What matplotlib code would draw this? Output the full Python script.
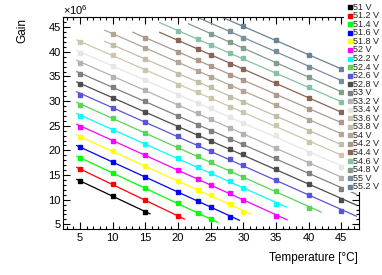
import numpy as np
import matplotlib
matplotlib.use("Agg")
import matplotlib.pyplot as plt
from matplotlib.ticker import MultipleLocator
from matplotlib.patches import Rectangle
from matplotlib.lines import Line2D

plt.rcParams["font.family"] = ["Liberation Sans", "DejaVu Sans"]
plt.rcParams["mathtext.fontset"] = "custom"
plt.rcParams["mathtext.rm"] = "Liberation Sans"

# temperatures (degC) at which the gain was measured
temps = [5, 10, 15, 20, 23, 25, 28, 30, 35, 40, 45]

voltages = [51.0, 51.2, 51.4, 51.6, 51.8, 52.0, 52.2, 52.4, 52.6, 52.8, 53.0,
            53.2, 53.4, 53.6, 53.8, 54.0, 54.2, 54.4, 54.6, 54.8, 55.0, 55.2]

# gain in units of 1e6, one row per voltage, None = not measured
N = None
gains = [
    [13.84, 10.65, 7.60, N, N, N, N, N, N, N, N],
    [16.14, 13.17, 9.92, 6.62, N, N, N, N, N, N, N],
    [18.46, 15.47, 12.28, 9.23, 7.34, 5.99, N, N, N, N, N],
    [20.61, 17.70, 14.51, 11.60, 9.78, 8.56, 6.53, N, N, N, N],
    [22.64, 19.80, 16.89, 13.84, 12.02, 10.86, 9.10, 7.47, N, N, N],
    [24.82, 21.97, 19.13, 16.02, 14.25, 13.03, 11.27, 9.98, 6.66, N, N],
    [27.05, 24.20, 21.30, 18.37, 16.62, 15.40, 13.71, 12.42, 9.17, N, N],
    [29.23, 26.50, 23.46, 20.61, 18.86, 17.64, 15.88, 14.59, 11.67, 8.29, N],
    [31.32, 28.54, 25.69, 22.85, 21.09, 19.94, 18.18, 17.09, 14.04, 10.86, 7.61],
    [33.50, 30.65, 27.72, 24.82, 23.06, 21.97, 20.28, 19.19, 16.28, 13.10, 9.98],
    [35.53, 32.80, 29.96, 27.05, 25.16, 24.01, 22.31, 21.36, 18.45, 15.40, 12.15],
    [37.76, 34.98, 32.28, 29.23, 27.60, 26.38, 24.48, 23.39, 20.55, 17.43, 14.38],
    [39.80, 37.07, 34.37, 31.26, 29.63, 28.54, 26.71, 25.63, 23.05, 19.46, 16.69],
    [41.95, 39.39, 36.40, 33.35, 31.80, 30.57, 28.75, 27.73, 25.09, 21.70, 19.06],
    [N, 41.42, 38.58, 35.53, 33.96, 32.81, 30.78, 29.90, 27.05, 23.87, 21.29],
    [N, 43.66, 40.73, 37.89, 36.20, 34.98, 33.15, 32.13, 29.22, 26.17, 23.39],
    [N, N, 42.85, 39.92, 38.37, 37.22, 35.32, 34.27, 31.32, 28.41, 25.70],
    [N, N, N, 42.30, 40.60, 39.38, 37.55, 36.60, 33.62, 30.64, 27.73],
    [N, N, N, 44.13, 42.64, 41.42, 39.72, 38.65, 35.66, 32.81, 29.76],
    [N, N, N, N, N, 43.65, 41.96, 40.81, 37.69, 34.84, 31.93],
    [N, N, N, N, N, N, 44.13, 42.77, 40.13, 37.01, 34.17],
    [N, N, N, N, N, N, N, 45.14, 42.30, 39.38, 36.54],
]

# temperature range over which each linear fit is drawn
fit_lo = [4.5] * 14 + [8.8, 8.8, 13.1, 17.2, 17.2, 21.6, 22.0, 26.0]
fit_hi = [15.7, 21.0, 26.1, 29.4, 31.2, 36.7, 36.6, 41.9] + [47.3] * 14

# ROOT colour indices 1-9, 12, 14, ..., 36
colors = ["#000000", "#ff0000", "#00ff00", "#0000ff", "#ffff00", "#ff00ff",
          "#00ffff", "#59d454", "#5954d9", "#4d4d4d", "#808080", "#b3b3b3",
          "#e6e6e6", "#ccc7ab", "#c2bfa8", "#b3a696", "#ad998c", "#876657",
          "#85c2a3", "#829e8c", "#7a8f99", "#698296"]

W, H = 382, 275
fig = plt.figure(figsize=(W / 100, H / 100), dpi=100)
ax = fig.add_axes([63 / W, 1 - 229 / H, (359 - 63) / W, (229 - 17.3) / H])

for v, row, lo, hi, c in zip(voltages, gains, fit_lo, fit_hi, colors):
    t = np.array([x for x, g in zip(temps, row) if g is not None], dtype=float)
    g = np.array([g for g in row if g is not None], dtype=float)
    p = np.polyfit(t, g, 1)
    xs = np.array([lo, hi])
    ax.plot(xs, np.polyval(p, xs), color=c, lw=0.9, zorder=2)
    ax.plot(t, g, "s", color=c, ms=3.2, mec=c, zorder=3)

ax.set_xlim(2.4, 47.7)
ax.set_ylim(4.05, 47.0)
ax.xaxis.set_major_locator(MultipleLocator(5))
ax.xaxis.set_minor_locator(MultipleLocator(1))
ax.yaxis.set_major_locator(MultipleLocator(5))
ax.yaxis.set_minor_locator(MultipleLocator(1))
ax.tick_params(which="both", direction="in", top=True, right=True,
               labelsize=8, width=0.8)
ax.tick_params(which="major", length=5)
ax.tick_params(which="minor", length=2.5)
ax.tick_params(axis="y", pad=1.5)
ax.tick_params(axis="x", pad=3)
for s in ax.spines.values():
    s.set_linewidth(0.8)

fig.text(22 / W, 1 - 18 / H, "Gain", rotation=90, ha="center", va="top",
         fontsize=8.5)
fig.text(358 / W, 1 - 258 / H, "Temperature [°C]", ha="right", va="center",
         fontsize=8.5)
fig.text(63 / W, 1 - 15 / H, r"$\times\mathregular{10^{6}}$", ha="left",
         va="baseline", fontsize=8)

# legend box (white, no border) over the top right corner
fig.add_artist(Rectangle((344 / W, 1 - 192 / H), (W - 344) / W, 192 / H,
                         transform=fig.transFigure, facecolor="white",
                         edgecolor="none", zorder=5))
for i, (v, c) in enumerate(zip(voltages, colors)):
    yc = 1 - (7.3 + i * 8.54) / H
    fig.add_artist(Line2D([349.5 / W], [yc], marker="s", ms=3.0, color=c,
                          mec=c, ls="none", transform=fig.transFigure, zorder=6))
    fig.text(353 / W, yc, f"{v:g} V", ha="left", va="center", fontsize=6.5,
             color="#222222", zorder=6)

fig.savefig("out.png", dpi=100)
